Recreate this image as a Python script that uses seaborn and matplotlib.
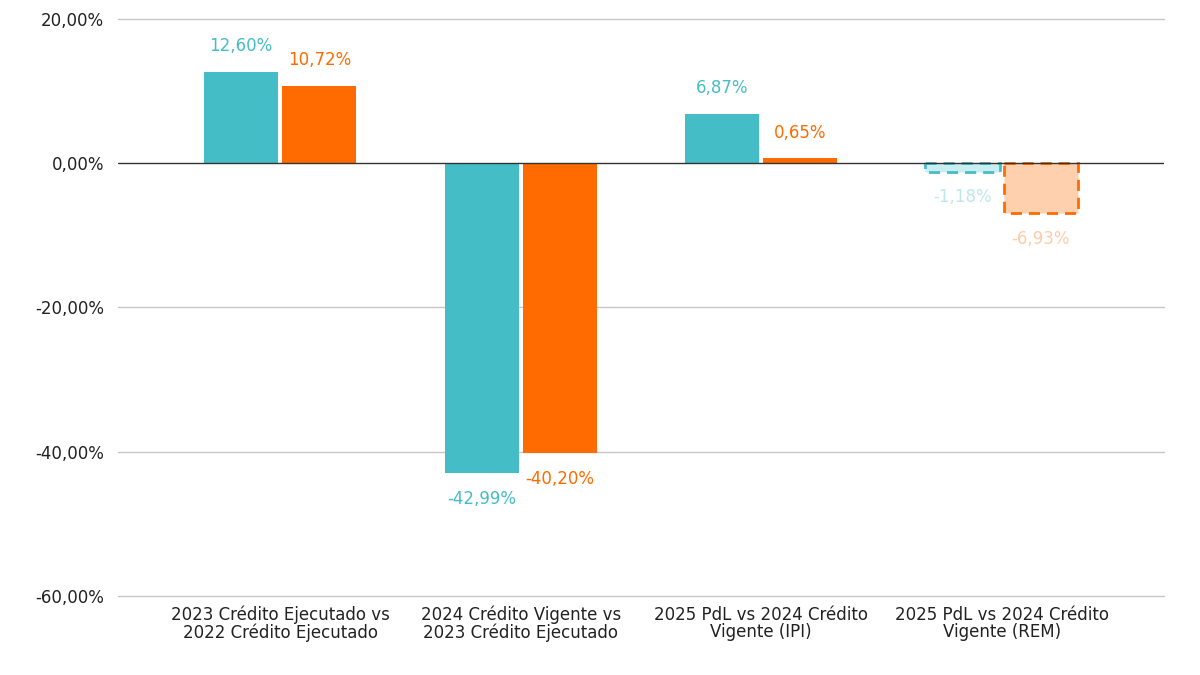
import pandas as pd
import seaborn as sns
import matplotlib.pyplot as plt
from matplotlib.ticker import FuncFormatter

# datos
categorias = [
    "2023 Crédito Ejecutado vs\n2022 Crédito Ejecutado",
    "2024 Crédito Vigente vs\n2023 Crédito Ejecutado",
    "2025 PdL vs 2024 Crédito\nVigente (IPI)",
    "2025 PdL vs 2024 Crédito\nVigente (REM)",
]
serie_a = [12.60, -42.99, 6.87, -1.18]
serie_b = [10.72, -40.20, 0.65, -6.93]
series = ["A", "B"]
yticks = [20, 0, -20, -40, -60]

TEAL = "#45BDC6"
ORANGE = "#FF6B00"
TEAL_CLARO = "#C9EEF1"
ORANGE_CLARO = "#FFD0AE"
TEAL_TXT_CLARO = "#BCE8EC"
ORANGE_TXT_CLARO = "#FFCCA8"

df = pd.DataFrame({
    "categoria": categorias * 2,
    "serie": [series[0]] * 4 + [series[1]] * 4,
    "valor": serie_a + serie_b,
})

sns.set_theme(style="white")
plt.rcParams["font.family"] = ["DejaVu Sans"]

fig = plt.figure(figsize=(12, 6.75), dpi=100)
ax = fig.add_axes([0.0983, 0.117, 0.8717, 0.8552])

sns.barplot(
    data=df, x="categoria", y="valor", hue="serie",
    palette={"A": TEAL, "B": ORANGE},
    width=0.65, gap=0.05, legend=False, ax=ax, saturation=1, linewidth=0,
)

ax.set_xlim(-0.675, 3.675)
ax.set_ylim(-60, 20)
ax.set_yticks(yticks)
ax.yaxis.set_major_formatter(FuncFormatter(lambda v, p: f"{v:.2f}%".replace(".", ",")))

for y in yticks:
    if y != 0:
        ax.axhline(y, color="#c6c6c6", lw=1, zorder=0, clip_on=False)
ax.axhline(0, color="#333333", lw=1, zorder=3)

colores_txt = [(TEAL, TEAL_TXT_CLARO), (ORANGE, ORANGE_TXT_CLARO)]
colores_claros = [TEAL_CLARO, ORANGE_CLARO]
colores = [TEAL, ORANGE]

for i, cont in enumerate(ax.containers):
    for j, bar in enumerate(cont):
        v = [serie_a, serie_b][i][j]
        ultimo = j == len(categorias) - 1
        if ultimo:
            bar.set_facecolor(colores_claros[i])
            bar.set_edgecolor(colores[i])
            bar.set_linestyle((0, (4, 2.5)))
            bar.set_linewidth(2)
        x = bar.get_x() + bar.get_width() / 2
        txt = f"{v:.2f}%".replace(".", ",")
        col = colores_txt[i][1] if ultimo else colores_txt[i][0]
        if v >= 0:
            ax.annotate(txt, (x, v), xytext=(0, 12), textcoords="offset points",
                        ha="center", va="bottom", color=col, fontsize=12)
        else:
            ax.annotate(txt, (x, v), xytext=(0, -12), textcoords="offset points",
                        ha="center", va="top", color=col, fontsize=12)

sns.despine(ax=ax, left=True, bottom=True)
ax.set_xlabel("")
ax.set_ylabel("")
ax.tick_params(axis="y", length=6, color="#c6c6c6", labelsize=12, labelcolor="#222222", pad=4)
ax.tick_params(axis="x", length=0, labelsize=12, labelcolor="#222222", pad=7)
for lbl in ax.get_xticklabels():
    lbl.set_linespacing(0.95)

fig.savefig("out.png", dpi=100)
